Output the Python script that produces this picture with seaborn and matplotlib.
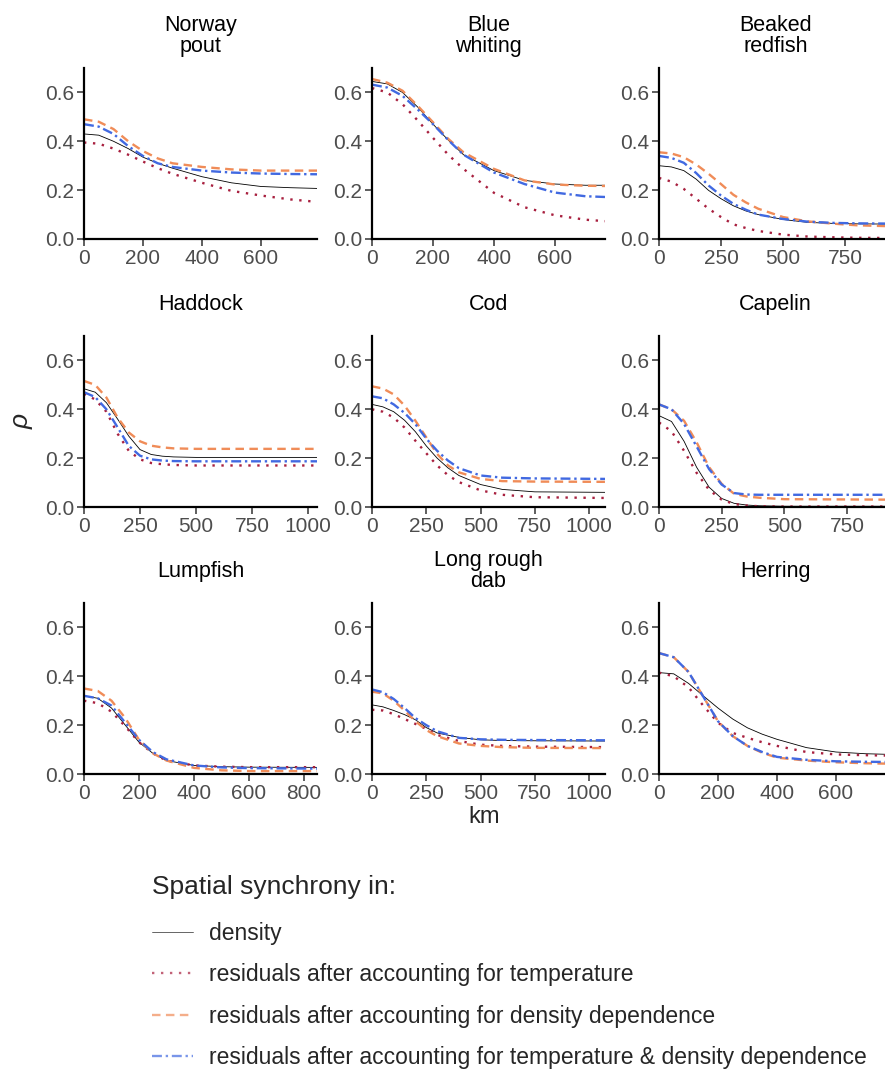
import matplotlib
matplotlib.use("Agg")
import matplotlib.pyplot as plt
import seaborn as sns
import pandas as pd
from matplotlib.ticker import MultipleLocator, FormatStrFormatter

# facet order, left-to-right, top-to-bottom
species = ["Norway\npout", "Blue\nwhiting", "Beaked\nredfish",
           "Haddock", "Cod", "Capelin",
           "Lumpfish", "Long rough\ndab", "Herring"]

km = [
    [0, 50, 100, 150, 200, 250, 300, 400, 500, 600, 700, 790],
    [0, 50, 100, 150, 200, 250, 300, 400, 500, 600, 700, 764],
    [0, 50, 100, 150, 200, 250, 300, 350, 400, 500, 600, 700, 800, 940],
    [0, 50, 100, 150, 200, 250, 300, 350, 400, 500, 750, 1040],
    [0, 50, 100, 150, 200, 250, 300, 350, 400, 500, 600, 750, 1073],
    [0, 50, 100, 150, 200, 250, 300, 350, 400, 500, 930],
    [0, 50, 100, 150, 200, 250, 300, 400, 500, 600, 847],
    [0, 50, 100, 150, 200, 250, 300, 400, 500, 600, 750, 1073],
    [0, 50, 100, 150, 200, 250, 300, 350, 400, 500, 600, 700, 790],
]

rho_density = [
    [0.43, 0.425, 0.40, 0.37, 0.335, 0.31, 0.29, 0.255, 0.23, 0.215, 0.21, 0.207],
    [0.645, 0.635, 0.60, 0.54, 0.47, 0.405, 0.345, 0.28, 0.24, 0.225, 0.22, 0.22],
    [0.30, 0.295, 0.28, 0.245, 0.199, 0.165, 0.136, 0.115, 0.10, 0.08, 0.068, 0.064, 0.062, 0.061],
    [0.484, 0.47, 0.427, 0.36, 0.29, 0.235, 0.215, 0.208, 0.205, 0.203, 0.203, 0.203],
    [0.42, 0.41, 0.39, 0.355, 0.308, 0.25, 0.20, 0.16, 0.129, 0.092, 0.072, 0.062, 0.06],
    [0.374, 0.35, 0.269, 0.163, 0.081, 0.035, 0.015, 0.008, 0.005, 0.003, 0.003],
    [0.32, 0.31, 0.27, 0.20, 0.13, 0.085, 0.055, 0.035, 0.03, 0.028, 0.027],
    [0.283, 0.275, 0.26, 0.243, 0.222, 0.19, 0.168, 0.15, 0.14, 0.137, 0.136, 0.135],
    [0.415, 0.41, 0.371, 0.32, 0.27, 0.225, 0.189, 0.163, 0.142, 0.108, 0.09, 0.083, 0.08],
]

rho_temp = [
    [0.395, 0.39, 0.37, 0.345, 0.317, 0.29, 0.267, 0.23, 0.197, 0.178, 0.162, 0.152],
    [0.618, 0.60, 0.552, 0.485, 0.414, 0.345, 0.287, 0.189, 0.13, 0.097, 0.079, 0.073],
    [0.25, 0.235, 0.205, 0.165, 0.124, 0.09, 0.06, 0.045, 0.033, 0.018, 0.01, 0.007, 0.005, 0.004],
    [0.464, 0.44, 0.39, 0.30, 0.23, 0.195, 0.18, 0.175, 0.172, 0.17, 0.17, 0.17],
    [0.40, 0.39, 0.366, 0.325, 0.271, 0.22, 0.17, 0.13, 0.102, 0.068, 0.05, 0.04, 0.037],
    [0.346, 0.31, 0.23, 0.14, 0.07, 0.03, 0.012, 0.006, 0.003, 0.002, 0.002],
    [0.30, 0.29, 0.255, 0.195, 0.13, 0.085, 0.055, 0.035, 0.03, 0.028, 0.028],
    [0.263, 0.26, 0.245, 0.225, 0.205, 0.185, 0.16, 0.135, 0.12, 0.115, 0.112, 0.11],
    [0.415, 0.40, 0.355, 0.28, 0.21, 0.168, 0.148, 0.13, 0.115, 0.09, 0.08, 0.077, 0.075],
]

rho_dd = [
    [0.49, 0.48, 0.45, 0.40, 0.36, 0.33, 0.31, 0.295, 0.285, 0.28, 0.28, 0.28],
    [0.655, 0.64, 0.607, 0.545, 0.478, 0.41, 0.355, 0.287, 0.24, 0.223, 0.218, 0.217],
    [0.355, 0.35, 0.335, 0.305, 0.267, 0.225, 0.181, 0.15, 0.124, 0.09, 0.072, 0.063, 0.056, 0.052],
    [0.516, 0.50, 0.448, 0.366, 0.305, 0.269, 0.251, 0.244, 0.24, 0.238, 0.238, 0.238],
    [0.494, 0.485, 0.461, 0.415, 0.353, 0.285, 0.217, 0.17, 0.142, 0.115, 0.106, 0.104, 0.103],
    [0.42, 0.40, 0.353, 0.265, 0.163, 0.095, 0.054, 0.043, 0.038, 0.032, 0.03],
    [0.35, 0.34, 0.30, 0.229, 0.14, 0.085, 0.055, 0.025, 0.015, 0.012, 0.012],
    [0.337, 0.33, 0.30, 0.26, 0.216, 0.18, 0.155, 0.125, 0.115, 0.11, 0.107, 0.106],
    [0.495, 0.478, 0.418, 0.317, 0.216, 0.155, 0.115, 0.087, 0.067, 0.055, 0.048, 0.044, 0.042],
]

rho_both = [
    [0.47, 0.46, 0.43, 0.38, 0.34, 0.31, 0.295, 0.28, 0.272, 0.268, 0.266, 0.265],
    [0.632, 0.62, 0.586, 0.53, 0.47, 0.405, 0.345, 0.272, 0.225, 0.19, 0.175, 0.172],
    [0.34, 0.332, 0.312, 0.27, 0.219, 0.178, 0.144, 0.12, 0.10, 0.082, 0.071, 0.066, 0.064, 0.063],
    [0.47, 0.45, 0.40, 0.326, 0.25, 0.21, 0.195, 0.19, 0.188, 0.187, 0.187, 0.187],
    [0.453, 0.445, 0.42, 0.385, 0.339, 0.28, 0.23, 0.19, 0.159, 0.129, 0.12, 0.117, 0.115],
    [0.42, 0.40, 0.34, 0.248, 0.155, 0.092, 0.057, 0.051, 0.05, 0.05, 0.05],
    [0.32, 0.31, 0.28, 0.21, 0.14, 0.09, 0.06, 0.035, 0.027, 0.024, 0.022],
    [0.346, 0.335, 0.307, 0.27, 0.229, 0.20, 0.175, 0.148, 0.142, 0.14, 0.139, 0.138],
    [0.495, 0.478, 0.418, 0.317, 0.216, 0.155, 0.115, 0.09, 0.07, 0.058, 0.052, 0.05, 0.049],
]

x_tick_step = [200, 200, 250, 250, 250, 250, 200, 250, 200]

series = ["density",
          "residuals after accounting for temperature",
          "residuals after accounting for density dependence",
          "residuals after accounting for temperature & density dependence"]

rows = []
for i, sp in enumerate(species):
    for name, vals in zip(series, [rho_density, rho_temp, rho_dd, rho_both]):
        for x, y in zip(km[i], vals[i]):
            rows.append((sp, name, x, y))
df = pd.DataFrame(rows, columns=["species", "series", "km", "rho"])

palette = dict(zip(series, ["black", "#A8203F", "#F08C58", "#4169E1"]))
dashes = dict(zip(series, ["", (1, 2.8), (3.6, 2.3), (4.2, 1.6, 1, 1.6)]))
sizes = dict(zip(series, [0.6, 1.7, 1.7, 1.7]))

sns.set_theme(style="white")
plt.rcParams["font.family"] = ["Liberation Sans", "DejaVu Sans"]

W, H = 885, 1073
fig = plt.figure(figsize=(W / 100, H / 100), dpi=100)

lefts = [84, 372, 659]
tops = [68, 336, 603]
aw, ah = 233, 171

handles, labels = None, None
for i, sp in enumerate(species):
    r, c = divmod(i, 3)
    ax = fig.add_axes([lefts[c] / W, 1 - (tops[r] + ah) / H, aw / W, ah / H])
    sub = df[df["species"] == sp]
    sns.lineplot(data=sub, x="km", y="rho", hue="series", style="series", size="series",
                 palette=palette, dashes=dashes, sizes=sizes, hue_order=series,
                 style_order=series, size_order=series, ax=ax, legend=(i == 0))
    if i == 0:
        handles, labels = ax.get_legend_handles_labels()
        ax.get_legend().remove()
    ax.set_xlim(0, max(km[i]))
    ax.set_ylim(0, 0.7)
    ax.set_yticks([0, 0.2, 0.4, 0.6])
    ax.yaxis.set_major_formatter(FormatStrFormatter("%.1f"))
    ax.xaxis.set_major_locator(MultipleLocator(x_tick_step[i]))
    ax.set_xlabel("")
    ax.set_ylabel("")
    for s in ["top", "right"]:
        ax.spines[s].set_visible(False)
    for s in ["left", "bottom"]:
        ax.spines[s].set_linewidth(1.6)
        ax.spines[s].set_color("black")
    ax.tick_params(axis="both", which="both", length=5, width=1.1, color="#333333",
                   labelsize=15, labelcolor="#4D4D4D", pad=2, left=True, bottom=True)
    ax.text(0.5, 1 + 32 / ah, sp, transform=ax.transAxes, ha="center", va="center",
            fontsize=15.5, linespacing=1.0, color="black")

fig.text(22 / W, 1 - 421 / H, "ρ", rotation=90, style="italic", fontsize=19,
         ha="center", va="center")
fig.text(484 / W, 1 - 817 / H, "km", fontsize=17, ha="center", va="center")

fig.text(152 / W, 1 - 887 / H, "Spatial synchrony in:", fontsize=19,
         ha="left", va="center")
leg = fig.legend(handles, labels, loc="upper left", bbox_to_anchor=(152 / W, 1 - 922 / H),
                 frameon=False, fontsize=16.5, handlelength=1.8, handletextpad=0.7,
                 labelspacing=0.8, borderpad=0, borderaxespad=0)
for h in leg.get_lines():
    h.set_alpha(0.7)

fig.savefig("out.png", dpi=100)
